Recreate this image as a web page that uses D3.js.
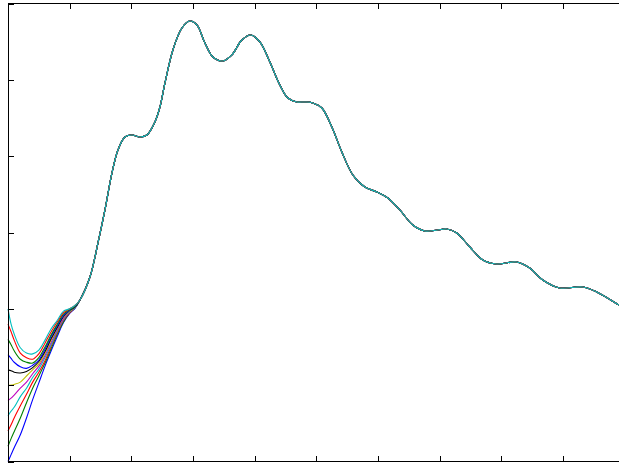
<!DOCTYPE html>
<html>
<head>
<meta charset="utf-8">
<script src="https://cdn.jsdelivr.net/npm/d3@7"></script>
<style>
  html, body { margin: 0; padding: 0; background: #ffffff; }
  svg { display: block; }
</style>
</head>
<body>
<svg id="chart" width="619" height="466"></svg>
<script>
// Start-up phase: each run begins from its own initial value
const earlyX = [0, 0.05, 0.1, 0.2, 0.3, 0.4, 0.5, 0.6, 0.7, 0.8, 0.9, 1.0, 1.08];

const run00 = [0.00, 0.09, 0.18, 0.35, 0.57, 0.81, 1.03, 1.25, 1.45, 1.64, 1.82, 1.94, 2.00];
const run02 = [0.20, 0.30, 0.39, 0.57, 0.77, 0.96, 1.12, 1.29, 1.48, 1.67, 1.83, 1.95, 2.01];
const run04 = [0.40, 0.48, 0.57, 0.73, 0.88, 1.04, 1.17, 1.32, 1.51, 1.69, 1.85, 1.95, 2.01];
const run06 = [0.60, 0.66, 0.71, 0.85, 0.96, 1.10, 1.21, 1.36, 1.53, 1.71, 1.86, 1.96, 2.01];
const run08 = [0.80, 0.83, 0.87, 0.96, 1.04, 1.15, 1.25, 1.39, 1.56, 1.73, 1.87, 1.97, 2.02];
const run10 = [1.00, 1.00, 1.01, 1.04, 1.12, 1.20, 1.28, 1.42, 1.59, 1.75, 1.89, 1.97, 2.02];
const run12 = [1.20, 1.19, 1.17, 1.16, 1.18, 1.23, 1.31, 1.44, 1.61, 1.76, 1.90, 1.98, 2.02];
const run14 = [1.40, 1.35, 1.30, 1.24, 1.22, 1.26, 1.33, 1.47, 1.64, 1.78, 1.91, 1.98, 2.03];
const run16 = [1.60, 1.53, 1.45, 1.34, 1.30, 1.29, 1.36, 1.50, 1.66, 1.80, 1.93, 1.99, 2.03];
const run18 = [1.80, 1.70, 1.59, 1.42, 1.36, 1.34, 1.41, 1.55, 1.70, 1.83, 1.95, 2.00, 2.04];
const run20 = [2.00, 1.80, 1.67, 1.49, 1.42, 1.41, 1.46, 1.59, 1.74, 1.85, 1.97, 2.00, 2.04];

// Settled response shared by every run once the start-up has died out
const sharedX = [1.167, 1.329, 1.459, 1.572, 1.686, 1.783, 1.896, 2.010, 2.139, 2.253,
                 2.382, 2.464, 2.545, 2.674, 2.820, 2.950, 3.063, 3.193, 3.323, 3.485,
                 3.630, 3.792, 3.938, 4.084, 4.246, 4.408, 4.538, 4.684, 4.814, 4.943,
                 5.089, 5.251, 5.413, 5.592, 5.786, 5.981, 6.159, 6.353, 6.564, 6.759,
                 6.969, 7.115, 7.277, 7.488, 7.699, 7.925, 8.250, 8.460, 8.671, 8.947,
                 9.319, 9.546, 9.903, 10.0];
const sharedY = [2.116, 2.417, 2.863, 3.295, 3.780, 4.081, 4.251, 4.277, 4.251, 4.277,
                 4.448, 4.644, 4.959, 5.391, 5.679, 5.771, 5.719, 5.483, 5.299, 5.247,
                 5.326, 5.522, 5.588, 5.496, 5.234, 4.933, 4.762, 4.710, 4.710, 4.697,
                 4.631, 4.382, 4.055, 3.753, 3.596, 3.531, 3.452, 3.295, 3.098, 3.020,
                 3.033, 3.046, 2.994, 2.810, 2.640, 2.587, 2.614, 2.535, 2.378, 2.273,
                 2.286, 2.221, 2.050, 1.998];

const runs = [run00, run02, run04, run06, run08, run10, run12, run14, run16, run18, run20];
const lineColors = ["#0000ff", "#008000", "#ff0000", "#00bfbf", "#bf00bf", "#bfbf00", "#000000"];

const xTicks = [0, 1, 2, 3, 4, 5, 6, 7, 8, 9, 10];
const yTicks = [0, 1, 2, 3, 4, 5, 6];

const svg = d3.select("#chart");
const plotLeft = 8, plotRight = 624.7, plotTop = 3.5, plotBottom = 461.5;

const x = d3.scaleLinear().domain([0, 10]).range([plotLeft, plotRight]);
const y = d3.scaleLinear().domain([0, 6]).range([plotBottom, plotTop]);

const line = d3.line()
  .x(d => x(d[0]))
  .y(d => y(d[1]))
  .curve(d3.curveCatmullRom.alpha(0.5));

const tail = sharedX.map((v, i) => [v, sharedY[i]]);

svg.append("g")
  .selectAll("path")
  .data(runs)
  .join("path")
  .attr("d", r => line(earlyX.map((v, i) => [v, r[i]]).concat(tail)))
  .attr("fill", "none")
  .attr("stroke", (r, i) => lineColors[i % lineColors.length])
  .attr("stroke-width", 1.1)
  .attr("stroke-linejoin", "round");

// Inward ticks on all four sides, no labels
const tickLen = 5.6;
function styleAxis(g) {
  g.select(".domain").remove();
  g.selectAll(".tick line").attr("stroke", "#000").attr("stroke-width", 1);
  g.selectAll(".tick text").remove();
  g.attr("shape-rendering", "crispEdges");
}
svg.append("g").attr("transform", `translate(0,${plotBottom})`)
  .call(d3.axisBottom(x).tickValues(xTicks).tickSize(-tickLen).tickFormat(""))
  .call(styleAxis);
svg.append("g").attr("transform", `translate(0,${plotTop})`)
  .call(d3.axisTop(x).tickValues(xTicks).tickSize(-tickLen).tickFormat(""))
  .call(styleAxis);
svg.append("g").attr("transform", `translate(${plotLeft},0)`)
  .call(d3.axisLeft(y).tickValues(yTicks).tickSize(-tickLen).tickFormat(""))
  .call(styleAxis);
svg.append("g").attr("transform", `translate(${plotRight},0)`)
  .call(d3.axisRight(y).tickValues(yTicks).tickSize(-tickLen).tickFormat(""))
  .call(styleAxis);

// Plot frame
svg.append("rect")
  .attr("x", plotLeft).attr("y", plotTop)
  .attr("width", plotRight - plotLeft).attr("height", plotBottom - plotTop)
  .attr("fill", "none")
  .attr("stroke", "#000")
  .attr("stroke-width", 1)
  .attr("shape-rendering", "crispEdges");
</script>
</body>
</html>
